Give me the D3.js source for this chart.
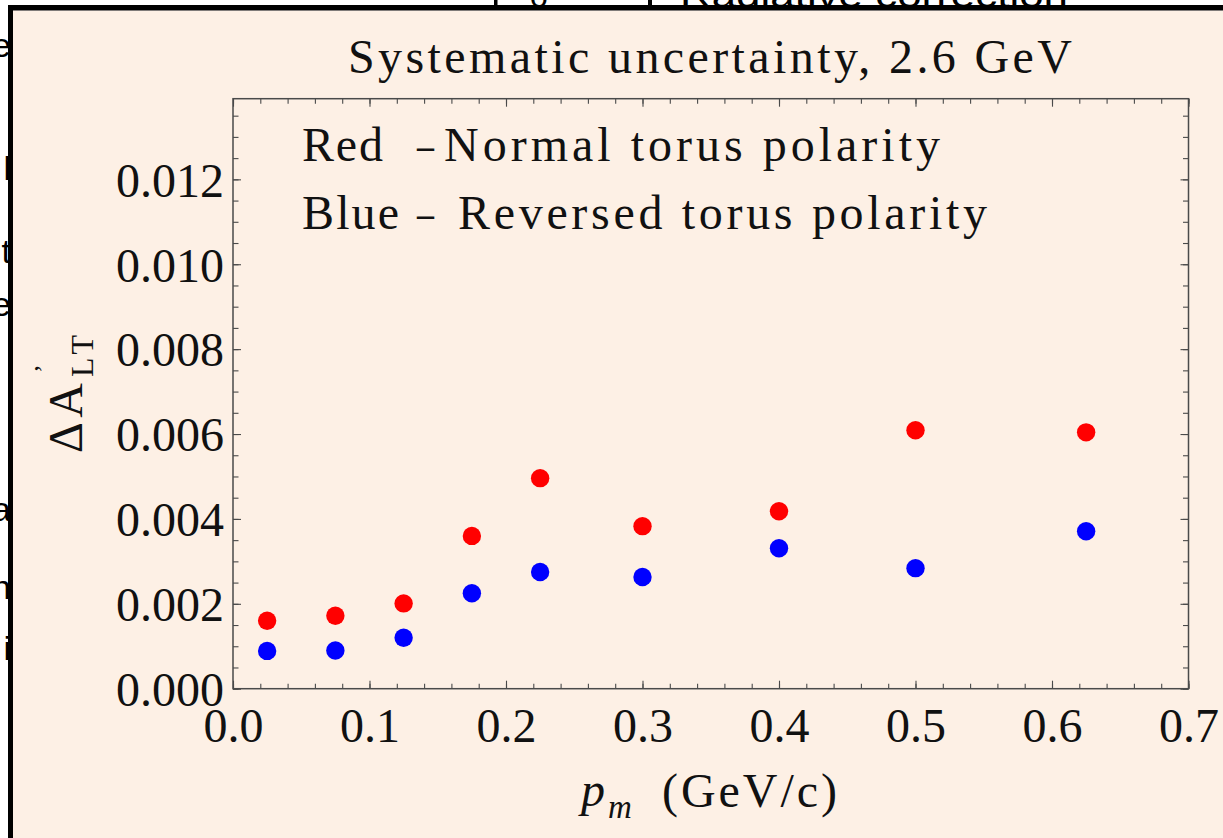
<!DOCTYPE html>
<html>
<head>
<meta charset="utf-8">
<script src="https://cdn.jsdelivr.net/npm/d3@7"></script>
<style>
  html, body { margin: 0; padding: 0; background: #ffffff; }
  svg { display: block; }
</style>
</head>
<body>
<svg id="chart" width="1223" height="838"></svg>
<script>
// Missing-momentum bins (GeV/c)
const pm = [0.025, 0.075, 0.125, 0.175, 0.225, 0.3, 0.4, 0.5, 0.625];
// Systematic uncertainty on A'_LT, normal torus polarity
const redNormal = [0.00160, 0.00172, 0.00201, 0.00360, 0.00496, 0.00383, 0.00418, 0.00609, 0.00604];
// Systematic uncertainty on A'_LT, reversed torus polarity
const blueReversed = [0.00089, 0.00090, 0.00120, 0.00225, 0.00275, 0.00263, 0.00331, 0.00284, 0.00371];

const xTicks = [0, 0.1, 0.2, 0.3, 0.4, 0.5, 0.6, 0.7];
const yTicks = [0, 0.002, 0.004, 0.006, 0.008, 0.010, 0.012];
const xMinor = d3.range(0, 36).map(i => i * 0.02);
const yMinor = d3.range(0, 28).map(i => i * 0.0005);

const titleText = "Systematic uncertainty, 2.6 GeV";
const legendRows = [
  { name: "Red", desc: "Normal torus polarity" },
  { name: "Blue", desc: "Reversed torus polarity" }
];

const W = 1223, H = 838;
const plot = { left: 233, right: 1188.5, top: 98.7, bottom: 688.7 };
const serif = "'Liberation Serif', 'Times New Roman', serif";
const sans = "'Liberation Sans', Arial, sans-serif";
const ink = "#111";
const frameColor = "#4a4a4a";

const svg = d3.select("#chart");

// page surround: white margin, black window edge, peach panel
svg.append("rect").attr("width", W).attr("height", H).attr("fill", "#ffffff");
svg.append("rect").attr("x", 13).attr("y", 10.5).attr("width", W - 13).attr("height", H - 10.5)
  .attr("fill", "#fdf0e5");

const defs = svg.append("defs");
defs.append("clipPath").attr("id", "clipLeft")
  .append("rect").attr("x", 0).attr("y", 0).attr("width", 8).attr("height", H);
defs.append("clipPath").attr("id", "clipTop")
  .append("rect").attr("x", 0).attr("y", 0).attr("width", W).attr("height", 5);

// fragments of neighbouring text cut by the window edge
const leftBits = [
  { ch: "e", y: 57 }, { ch: "l", y: 180 }, { ch: "t", y: 263 }, { ch: "e", y: 316 },
  { ch: "a", y: 521 }, { ch: "n", y: 599 }, { ch: "i", y: 660 }
];
svg.append("g").attr("clip-path", "url(#clipLeft)")
  .selectAll("text").data(leftBits).join("text")
  .attr("x", 11).attr("y", d => d.y)
  .attr("text-anchor", "end")
  .attr("font-family", sans).attr("font-size", 34).attr("fill", "#000")
  .text(d => d.ch);

const topG = svg.append("g").attr("clip-path", "url(#clipTop)");
topG.append("text").attr("x", 530).attr("y", 7)
  .attr("font-family", sans).attr("font-size", 32).attr("fill", "#000").text("o");
topG.append("text").attr("x", 680).attr("y", 7)
  .attr("font-family", sans).attr("font-size", 34).attr("fill", "#000")
  .attr("textLength", 388).attr("lengthAdjust", "spacingAndGlyphs")
  .text("Radiative correction");
topG.append("rect").attr("x", 494).attr("y", 0).attr("width", 3.5).attr("height", 6).attr("fill", "#000");
topG.append("rect").attr("x", 648).attr("y", 0).attr("width", 4).attr("height", 6).attr("fill", "#000");

svg.append("rect").attr("x", 8).attr("y", 5).attr("width", W - 8).attr("height", 5.5).attr("fill", "#000");
svg.append("rect").attr("x", 8).attr("y", 5).attr("width", 5).attr("height", H - 5).attr("fill", "#000");

// scales
const x = d3.scaleLinear().domain([0, 0.7]).range([plot.left, plot.right]);
const y = d3.scaleLinear().domain([0, 0.0139]).range([plot.bottom, plot.top]);

function styleAxis(g) {
  g.select(".domain").remove();
  g.selectAll(".tick line").attr("stroke", frameColor).attr("stroke-width", 1.1);
}

// minor ticks on all four sides
svg.append("g").attr("transform", `translate(0,${plot.bottom})`)
  .call(d3.axisBottom(x).tickValues(xMinor).tickSize(-5).tickFormat(""))
  .call(styleAxis);
svg.append("g").attr("transform", `translate(0,${plot.top})`)
  .call(d3.axisTop(x).tickValues(xMinor).tickSize(-5).tickFormat(""))
  .call(styleAxis);
svg.append("g").attr("transform", `translate(${plot.left},0)`)
  .call(d3.axisLeft(y).tickValues(yMinor).tickSize(-5.5).tickFormat(""))
  .call(styleAxis);
svg.append("g").attr("transform", `translate(${plot.right},0)`)
  .call(d3.axisRight(y).tickValues(yMinor).tickSize(-5.5).tickFormat(""))
  .call(styleAxis);

// major ticks
const xAxis = svg.append("g").attr("transform", `translate(0,${plot.bottom})`)
  .call(d3.axisBottom(x).tickValues(xTicks).tickSize(-8).tickPadding(19).tickFormat(d3.format(".1f")))
  .call(styleAxis);
svg.append("g").attr("transform", `translate(0,${plot.top})`)
  .call(d3.axisTop(x).tickValues(xTicks).tickSize(-8).tickFormat(""))
  .call(styleAxis);
const yAxis = svg.append("g").attr("transform", `translate(${plot.left},0)`)
  .call(d3.axisLeft(y).tickValues(yTicks).tickSize(-8).tickPadding(9).tickFormat(d3.format(".3f")))
  .call(styleAxis);
svg.append("g").attr("transform", `translate(${plot.right},0)`)
  .call(d3.axisRight(y).tickValues(yTicks).tickSize(-8).tickFormat(""))
  .call(styleAxis);

[xAxis, yAxis].forEach(g => g.attr("font-family", serif).attr("font-size", 48)
  .selectAll("text").attr("fill", ink));
yAxis.selectAll("text").attr("dy", "0.35em");

// frame
svg.append("rect")
  .attr("x", plot.left).attr("y", plot.top)
  .attr("width", plot.right - plot.left).attr("height", plot.bottom - plot.top)
  .attr("fill", "none").attr("stroke", frameColor).attr("stroke-width", 1.5);

// points
const pts = svg.append("g");
pts.selectAll("circle.red").data(pm.map((p, i) => [p, redNormal[i]])).join("circle")
  .attr("class", "red")
  .attr("cx", d => x(d[0])).attr("cy", d => y(d[1])).attr("r", 9.2)
  .attr("fill", "#ff0000");
pts.selectAll("circle.blue").data(pm.map((p, i) => [p, blueReversed[i]])).join("circle")
  .attr("class", "blue")
  .attr("cx", d => x(d[0])).attr("cy", d => y(d[1])).attr("r", 9.2)
  .attr("fill", "#0000ff");

// title
svg.append("text").attr("x", 348).attr("y", 73)
  .attr("font-family", serif).attr("font-size", 48).attr("fill", ink)
  .attr("textLength", 724).attr("lengthAdjust", "spacing")
  .text(titleText);

// legend
const legendY = [161, 229];
const descX = [444, 458];
const descLen = [496, 529];
legendRows.forEach((row, i) => {
  const t = svg.append("g").attr("font-family", serif).attr("font-size", 48).attr("fill", ink);
  t.append("text").attr("x", 302).attr("y", legendY[i])
    .attr("textLength", i === 0 ? 81 : 97).attr("lengthAdjust", "spacing").text(row.name);
  t.append("text").attr("x", 417).attr("y", legendY[i])
    .attr("textLength", 17).attr("lengthAdjust", "spacingAndGlyphs").text("\u2013");
  t.append("text").attr("x", descX[i]).attr("y", legendY[i])
    .attr("textLength", descLen[i]).attr("lengthAdjust", "spacing").text(row.desc);
});

// x-axis title: p_m (GeV/c)
const xl = svg.append("g").attr("font-family", serif).attr("fill", ink);
xl.append("text").attr("x", 581).attr("y", 806).attr("font-size", 48)
  .attr("font-style", "italic").text("p");
xl.append("text").attr("x", 608).attr("y", 818).attr("font-size", 33)
  .attr("font-style", "italic").text("m");
xl.append("text").attr("x", 662).attr("y", 807).attr("font-size", 48)
  .attr("textLength", 175).attr("lengthAdjust", "spacing").text("(GeV/c)");

// y-axis title: ΔA'_LT, rotated
const yl = svg.append("g").attr("transform", "translate(82,453) rotate(-90)")
  .attr("font-family", serif).attr("fill", ink);
yl.append("text").attr("x", 0).attr("y", 0).attr("font-size", 48)
  .attr("textLength", 70).attr("lengthAdjust", "spacing").text("\u0394 A");
yl.append("text").attr("x", 76).attr("y", 11).attr("font-size", 32)
  .attr("textLength", 42).attr("lengthAdjust", "spacing").text("LT");
yl.append("text").attr("x", 80).attr("y", -30).attr("font-size", 26).text("\u2019");
</script>
</body>
</html>
